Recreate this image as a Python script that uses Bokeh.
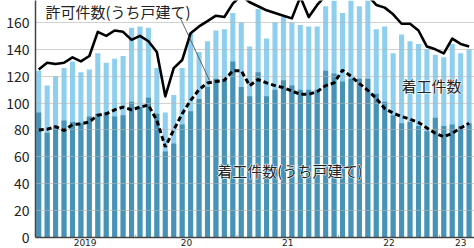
from bokeh.plotting import figure
from bokeh.models import Range1d, FixedTicker, Label, ColumnDataSource
from bokeh.embed import file_html
from bokeh.resources import INLINE

# Monthly data, Jan 2019 .. Apr 2023 (index 0..51)
starts_total = [124, 113, 120, 126, 131, 123, 125, 137, 130, 133, 135, 156,
                157, 156, 126, 93, 106, 126, 152, 138, 146, 154, 155, 167,
                160, 142, 170, 148, 160, 164, 160, 158, 157, 157, 172, 180,
                167, 182, 172, 179, 155, 157, 137, 151, 146, 144, 140, 136,
                134, 144, 137, 140]
starts_house = [93, 78, 83, 87, 86, 85, 90, 92, 93, 90, 91, 101,
                97, 104, 92, 64, 70, 84, 94, 103, 112, 118, 118, 131,
                112, 105, 123, 105, 110, 117, 113, 110, 110, 110, 124, 122,
                116, 118, 118, 118, 107, 101, 91, 85, 86, 83, 79, 89,
                83, 84, 83, 85]
permits_total = [125, 130, 129, 130, 134, 131, 135, 153, 150, 154, 153, 147,
                 150, 146, 138, 105, 126, 132, 152, 157, 161, 165, 164, 174,
                 180, 175, 172, 169, 167, 165, 163, 179, 164, 173, 180, 184,
                 186, 185, 186, 180, 173, 171, 166, 159, 159, 154, 142, 140,
                 137, 148, 144, 142]
permits_house = [80, 80.5, 82.5, 79.5, 84, 84.5, 86, 91, 92, 95, 97, 95,
                 97, 98.5, 87, 67.5, 80, 92, 102, 110, 115, 116, 117, 124,
                 124, 113, 117.5, 115, 113, 111.5, 109, 106.5, 106.5, 108.5, 113, 115,
                 124.5, 120, 114.5, 109.5, 103.5, 96, 92.5, 90, 88, 85.5, 81.5, 77.5,
                 75, 77.5, 81.5, 85]
months = list(range(len(starts_total)))

y_ticks = [0, 20, 40, 60, 80, 100, 120, 140, 160]
year_labels = ["2019", "20", "21", "22", "23"]
year_centers = [5.5, 17.5, 29.5, 41.5, 50]
year_bounds = [11.5, 23.5, 35.5, 47.5]

FONT = "Noto Sans CJK JP"
LIGHT = "#8ecff0"
DARK = "#4893b5"
INK = "#222222"

src = ColumnDataSource(dict(m=months, st=starts_total, sh=starts_house,
                            pt=permits_total, ph=permits_house))

p = figure(width=474, height=248, output_backend="svg", toolbar_location=None,
           x_range=Range1d(-0.38, 51.64), y_range=Range1d(0, 176.3),
           min_border_left=35, min_border_right=0, min_border_top=0,
           min_border_bottom=11)
p.outline_line_color = None
p.background_fill_color = "white"
p.border_fill_color = "white"

p.vbar(x="m", top="st", width=0.6, source=src, fill_color=LIGHT, line_color=None)
p.vbar(x="m", top="sh", width=0.6, source=src, fill_color=DARK, line_color=None)

# grid lines drawn over the bars
p.xgrid.visible = False
p.ygrid.visible = False
p.hspan(y=y_ticks[1:], line_color="#b4b4b4", line_alpha=0.6, line_width=1)

# small year-boundary ticks on the baseline
tick_len = 2.2
p.segment(x0=year_bounds, y0=[0] * len(year_bounds), x1=year_bounds,
          y1=[tick_len] * len(year_bounds), line_color="#b0b0b0", line_width=1)

p.line(x="m", y="pt", source=src, line_color="black", line_width=2.6, line_join="round")
p.line(x="m", y="ph", source=src, line_color="black", line_width=3, line_dash="5 3")

# leader line from the label to the dashed line
leader_x = [16.8, 20.24]
leader_y = [162.9, 116.8]
p.line(leader_x, leader_y, line_color="#444444", line_width=0.8)

# axes
p.yaxis.ticker = FixedTicker(ticks=y_ticks)
p.yaxis.major_label_text_font = FONT
p.yaxis.major_label_text_font_size = "14px"
p.yaxis.major_label_text_color = INK
p.yaxis.major_tick_out = 0
p.yaxis.major_tick_in = 0
p.yaxis.minor_tick_line_color = None
p.yaxis.axis_line_color = "#444444"
p.yaxis.axis_line_width = 1.5
p.yaxis.major_label_standoff = 6

p.xaxis.ticker = FixedTicker(ticks=year_centers)
p.xaxis.major_label_overrides = {c: t for c, t in zip(year_centers, year_labels)}
p.xaxis.major_label_text_font = "DejaVu Sans"
p.xaxis.major_label_text_font_size = "9px"
p.xaxis.major_label_text_color = INK
p.xaxis.major_label_standoff = 1
p.xaxis.major_tick_in = 0
p.xaxis.major_tick_out = 0
p.xaxis.major_tick_line_color = None
p.xaxis.minor_tick_line_color = None
p.xaxis.axis_line_color = "#444444"
p.xaxis.axis_line_width = 1.5

p.add_layout(Label(x=0.8, y=176.3, text="許可件数(うち戸建て)", text_font=FONT,
                   text_font_size="15px", text_align="left", text_baseline="top",
                   text_color=INK))


def halo_label(x, y, text):
    # white outline underneath, then the dark text on top
    p.add_layout(Label(x=x, y=y, text=text, text_font=FONT, text_font_size="15px",
                       text_align="center", text_baseline="middle",
                       text_color="white", text_outline_color="white"))
    p.add_layout(Label(x=x, y=y, text=text, text_font=FONT, text_font_size="15px",
                       text_align="center", text_baseline="middle", text_color=INK))


halo_label(46.54, 113.1, "着工件数")
halo_label(29.77, 49.8, "着工件数(うち戸建て)")

open("out.html", "w").write(file_html(p, INLINE))
